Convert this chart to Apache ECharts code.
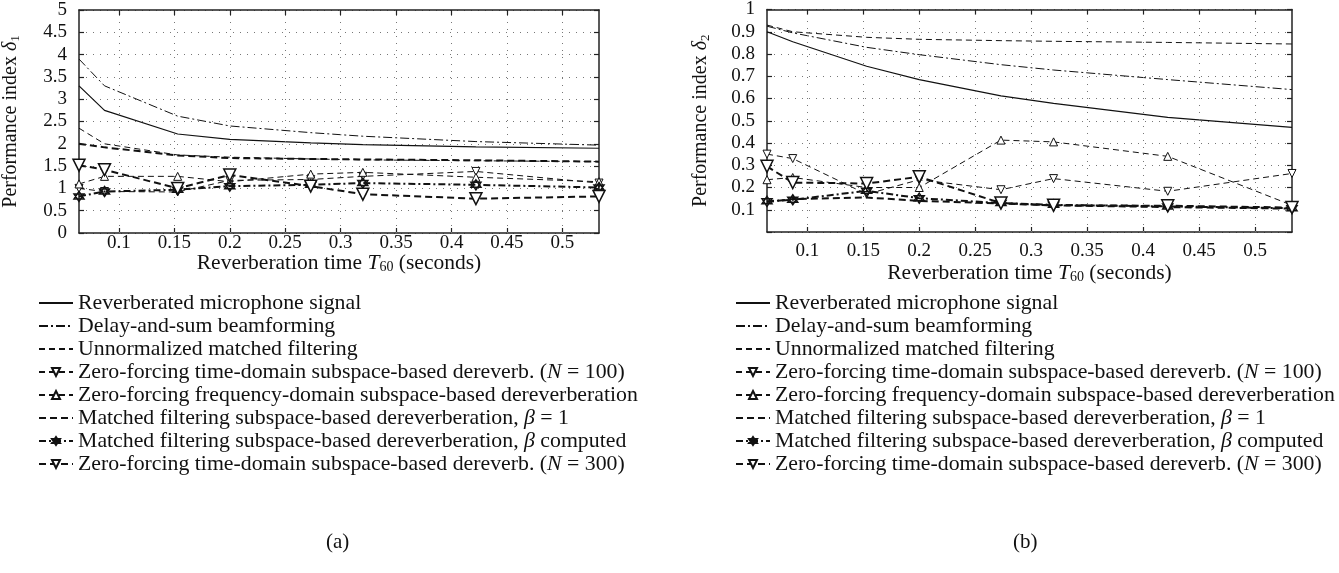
<!DOCTYPE html>
<html>
<head>
<meta charset="utf-8">
<script src="https://cdn.jsdelivr.net/npm/echarts@6/dist/echarts.min.js"></script>
<style>
html,body{margin:0;padding:0;background:#fff;}
#c{width:1339px;height:573px;}
</style>
</head>
<body>
<div id="c"></div>
<script>
// ---------- data ----------
const T60 = [0.064, 0.087, 0.153, 0.2, 0.273, 0.32, 0.422, 0.533];
const xTicks = [0.1, 0.15, 0.2, 0.25, 0.3, 0.35, 0.4, 0.45, 0.5];

const seriesNames = [
  'Reverberated microphone signal',
  'Delay-and-sum beamforming',
  'Unnormalized matched filtering',
  'Zero-forcing time-domain subspace-based dereverb. (N = 100)',
  'Zero-forcing frequency-domain subspace-based dereverberation',
  'Matched filtering subspace-based dereverberation, β = 1',
  'Matched filtering subspace-based dereverberation, β computed',
  'Zero-forcing time-domain subspace-based dereverb. (N = 300)'
];

// (a) performance index delta1
const reverbA = [3.3, 2.75, 2.22, 2.1, 2.02, 1.98, 1.93, 1.9];
const dsbA    = [3.9, 3.3, 2.62, 2.4, 2.25, 2.17, 2.05, 1.97];
const umfA    = [2.35, 2.0, 1.75, 1.7, 1.66, 1.64, 1.62, 1.6];
const zf100A  = [1.0, 0.93, 0.92, 1.18, 1.2, 1.27, 1.38, 1.12];
const zffA    = [1.1, 1.27, 1.27, 1.15, 1.32, 1.36, 1.25, 1.15];
const mf1A    = [2.0, 1.92, 1.74, 1.68, 1.66, 1.65, 1.63, 1.6];
const mfbA    = [0.82, 0.93, 0.97, 1.05, 1.08, 1.12, 1.08, 1.02];
const zf300A  = [1.52, 1.42, 1.0, 1.3, 1.05, 0.87, 0.77, 0.82];

// (b) performance index delta2
const reverbB = [0.9, 0.855, 0.745, 0.685, 0.612, 0.578, 0.515, 0.47];
const dsbB    = [0.925, 0.895, 0.83, 0.797, 0.752, 0.728, 0.685, 0.64];
const umfB    = [0.93, 0.9, 0.875, 0.866, 0.86, 0.857, 0.852, 0.845];
const zf100B  = [0.35, 0.33, 0.17, 0.235, 0.19, 0.24, 0.183, 0.263];
const zffB    = [0.235, 0.245, 0.2, 0.2, 0.413, 0.405, 0.34, 0.12];
const mf1B    = [0.135, 0.148, 0.155, 0.14, 0.128, 0.12, 0.112, 0.105];
const mfbB    = [0.138, 0.145, 0.185, 0.152, 0.13, 0.122, 0.115, 0.107];
const zf300B  = [0.295, 0.222, 0.218, 0.248, 0.13, 0.12, 0.118, 0.11];

// ---------- styles ----------
const FONT = 'Liberation Serif';
const INK = '#111';
const HEX = 'path://M0,-10L8.66,5L-8.66,5Z M0,10L8.66,-5L-8.66,-5Z';
const styles = [
  {line:{type:'solid', width:1.2}, symbol:'none'},
  {line:{type:[9,3,2,3], width:1}, symbol:'none'},
  {line:{type:[6,4], width:1}, symbol:'none'},
  {line:{type:[6,4], width:1}, symbol:'triangle', rot:180, size:8, bw:1},
  {line:{type:[6,4], width:1}, symbol:'triangle', rot:0, size:8, bw:1},
  {line:{type:[7,4], width:2}, symbol:'none'},
  {line:{type:[7,3,2,3], width:2}, symbol:HEX, rot:0, size:10, bw:1.5},
  {line:{type:[7,4], width:2}, symbol:'triangle', rot:180, size:12, bw:1.5}
];

function pairs(ys){ return T60.map((x,i)=>[x, ys[i]]); }

function makeSeries(arrs, gi){
  return arrs.map((ys, k) => {
    const st = styles[k];
    const s = {
      name: seriesNames[k],
      type: 'line',
      xAxisIndex: gi*2, yAxisIndex: gi*2,
      data: pairs(ys),
      symbol: st.symbol,
      symbolSize: st.size || 4,
      symbolRotate: st.rot || 0,
      showAllSymbol: true,
      lineStyle: {color: INK, width: st.line.width, type: st.line.type},
      itemStyle: {color: '#fff', borderColor: INK, borderWidth: st.bw || 1},
      emphasis: {disabled: true},
      animation: false,
      z: 3 + k
    };
    if (k === 0) {
      s.markLine = {
        silent: true, symbol: 'none', animation: false,
        label: {show: false},
        lineStyle: {color: '#777', width: 1, type: [1, 6]},
        data: xTicks.map(v => ({xAxis: v}))
      };
    }
    return s;
  });
}

function rich(fs){
  return {
    t: {fontFamily: FONT, fontSize: fs, color: INK, lineHeight: 22},
    it: {fontFamily: FONT, fontSize: fs, fontStyle: 'italic', color: INK, lineHeight: 22},
    sub: {fontFamily: FONT, fontSize: Math.round(fs*0.65), color: INK, lineHeight: 22, verticalAlign: 'bottom', padding:[8,0,0,0]}
  };
}

function xAxes(gi, labelMargin, nameGap){
  return [{
    type: 'value', gridIndex: gi, min: 0.064, max: 0.533,
    position: 'bottom',
    name: '{t|Reverberation time }{it|T}{sub|60}{t| (seconds)}',
    nameLocation: 'middle', nameGap: nameGap, nameMoveOverlap: false,
    nameTextStyle: {rich: rich(21.5)},
    axisLine: {show: true, onZero: false, lineStyle: {color: '#222', width: 1.5}},
    axisTick: {show: true, inside: true, length: 5, customValues: xTicks, lineStyle:{color:'#222', width:1.2}},
    axisLabel: {show: true, customValues: xTicks, margin: labelMargin, fontFamily: FONT, fontSize: 19, color: INK,
                formatter: v => String(+v.toFixed(2))},
    splitLine: {show: false}
  },{
    type: 'value', gridIndex: gi, min: 0.064, max: 0.533,
    position: 'top',
    axisLine: {show: true, onZero: false, lineStyle: {color: '#222', width: 1.5}},
    axisTick: {show: true, inside: true, length: 5, customValues: xTicks, lineStyle:{color:'#222', width:1.2}},
    axisLabel: {show: false},
    splitLine: {show: false}
  }];
}

function yAxes(gi, max, interval, name, hideZero, nameGap){
  const common = {
    type: 'value', gridIndex: gi, min: 0, max: max, interval: interval
  };
  return [Object.assign({}, common, {
    position: 'left',
    name: name,
    nameLocation: 'middle', nameGap: nameGap, nameRotate: 90, nameMoveOverlap: false,
    nameTextStyle: {rich: rich(20)},
    axisLine: {show: true, onZero: false, lineStyle: {color: '#222', width: 1.5}},
    axisTick: {show: true, inside: true, length: 5, lineStyle:{color:'#222', width:1.2}},
    axisLabel: {show: true, margin: 12, fontFamily: FONT, fontSize: 19, color: INK,
                formatter: v => (hideZero && v === 0) ? '' : String(+v.toFixed(2))},
    splitLine: {show: true, lineStyle: {color: '#777', width: 1, type: [1, 6]}}
  }), Object.assign({}, common, {
    position: 'right',
    axisLine: {show: true, onZero: false, lineStyle: {color: '#222', width: 1.5}},
    axisTick: {show: true, inside: true, length: 5, lineStyle:{color:'#222', width:1.2}},
    axisLabel: {show: false},
    splitLine: {show: false}
  })];
}

function legendFormatter(name){
  return '{t|' + name.replace('(N =', '(}{it|N}{t| =').replace('β', '}{it|β}{t|') + '}';
}
function legendData(){
  return seriesNames.map((n, k) => styles[k].symbol === 'none'
    ? {name: n, itemStyle: {opacity: 0}} : {name: n});
}
function legend(left){
  return {
    orient: 'vertical', left: left, top: 287,
    itemWidth: 34, itemHeight: 10, itemGap: 1, itemTextGap: 15,
    selectedMode: false,
    data: legendData(),
    formatter: legendFormatter,
    textStyle: {fontFamily: FONT, fontSize: 21.8, color: INK, lineHeight: 22, rich: rich(21.8)}
  };
}

const option = {
  backgroundColor: '#fff',
  animation: false,
  textStyle: {fontFamily: FONT},
  grid: [
    {left: 75, top: 10, width: 524, height: 223, containLabel: false},
    {left: 767, top: 8, width: 525, height: 224, containLabel: false}
  ],
  xAxis: [...xAxes(0, 1, 19), ...xAxes(1, 10, 30)],
  yAxis: [
    ...yAxes(0, 5, 0.5, '{t|Performance index }{it|δ}{sub|1}', false, 57),
    ...yAxes(1, 1, 0.1, '{t|Performance index }{it|δ}{sub|2}', true, 55)
  ],
  legend: [legend(33), legend(730)],
  title: [
    {text: '(a)', left: 321, top: 527, textStyle: {fontFamily: FONT, fontSize: 21, fontWeight: 'normal', color: INK}},
    {text: '(b)', left: 1008, top: 527, textStyle: {fontFamily: FONT, fontSize: 21, fontWeight: 'normal', color: INK}}
  ],
  series: [
    ...makeSeries([reverbA, dsbA, umfA, zf100A, zffA, mf1A, mfbA, zf300A], 0),
    ...makeSeries([reverbB, dsbB, umfB, zf100B, zffB, mf1B, mfbB, zf300B], 1)
  ]
};

const chart = echarts.init(document.getElementById('c'), null, {renderer: 'canvas'});
chart.setOption(option);
</script>
</body>
</html>
